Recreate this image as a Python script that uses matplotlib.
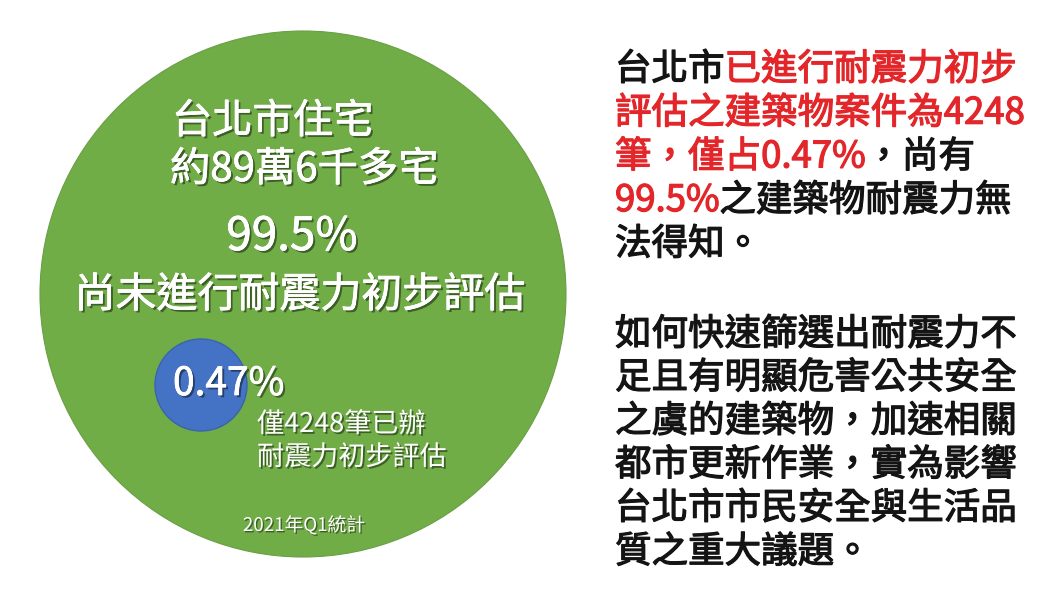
import matplotlib
matplotlib.use("Agg")
import matplotlib.pyplot as plt
from matplotlib.patches import Circle
import matplotlib.patheffects as pe

plt.rcParams['font.family'] = ['Noto Sans CJK TC', 'DejaVu Sans']

# ---- data ----
categories = ["尚未進行耐震力初步評估", "已辦耐震力初步評估"]
shares = [99.5, 0.47]              # percent of Taipei homes
assessed_cases = 4248
homes_label = "約89萬6千多宅"
city_label = "台北市住宅"
stat_period = "2021年Q1統計"

right_para1 = [
    [("台北市", "k"), ("已進行耐震力初步", "r")],
    [("評估之建築物案件為{}".format(assessed_cases), "r")],
    [("筆，僅占{}%".format(shares[1]), "r"), ("，尚有", "k")],
    [("{}%".format(shares[0]), "r"), ("之建築物耐震力無", "k")],
    [("法得知。", "k")],
]
right_para2 = [
    [("如何快速篩選出耐震力不", "k")],
    [("足且有明顯危害公共安全", "k")],
    [("之虞的建築物，加速相關", "k")],
    [("都市更新作業，實為影響", "k")],
    [("台北市市民安全與生活品", "k")],
    [("質之重大議題。", "k")],
]

GREEN = "#70AD47"
BLUE = "#4472C4"
RED = "#E3262A"
BLACK = "#141414"

fig = plt.figure(figsize=(10.6, 5.96), dpi=100)
ax = fig.add_axes([0, 0, 1, 1])
ax.set_xlim(0, 1060)
ax.set_ylim(596, 0)
ax.axis("off")
fig.patch.set_facecolor("white")

# circles (layout)
ax.add_patch(Circle((303, 294), 263, facecolor=GREEN, edgecolor="#6a9f45", lw=0.8, zorder=1))
ax.add_patch(Circle((201, 385), 46, facecolor=BLUE, edgecolor="#3a63ad", lw=1.0, zorder=2))


def white_fx(stroke, off):
    fx = [pe.withSimplePatchShadow(offset=(off, -off), shadow_rgbFace="black", alpha=0.45)]
    if stroke > 0:
        fx.append(pe.withStroke(linewidth=stroke, foreground="white"))
    return fx


wkw = dict(color="white", va="baseline", zorder=3)

ax.text(172, 133, city_label, ha="left", fontsize=29, path_effects=white_fx(0.5, 1.6), **wkw)
ax.text(170, 181, homes_label, ha="left", fontsize=29, path_effects=white_fx(0.5, 1.6), **wkw)
ax.text(292, 250, "{}%".format(shares[0]), ha="center", fontsize=33, path_effects=white_fx(0.5, 1.6), **wkw)
ax.text(300, 307, categories[0], ha="center", fontsize=29.5, path_effects=white_fx(0.5, 1.6), **wkw)
ax.text(173, 395, "{}%".format(shares[1]), ha="left", fontsize=28, path_effects=white_fx(0.5, 1.6), **wkw)
ax.text(257, 432, "僅{}筆已辦".format(assessed_cases), ha="left", fontsize=19.5, path_effects=white_fx(0, 1.3), **wkw)
ax.text(257, 465, "耐震力初步評估", ha="left", fontsize=19.5, path_effects=white_fx(0, 1.3), **wkw)
ax.text(304, 531, stat_period, ha="center", fontsize=13.5, path_effects=white_fx(0, 1.0), **wkw)

# right-hand rich text
renderer = fig.canvas.get_renderer()
colmap = {"k": BLACK, "r": RED}


def draw_lines(lines, y0, step):
    for i, segs in enumerate(lines):
        x = 615
        y = y0 + i * step
        for s, c in segs:
            t = ax.text(x, y, s, color=colmap[c], fontsize=26.3,
                        ha="left", va="baseline", zorder=3,
                        path_effects=[pe.withStroke(linewidth=0.9, foreground=colmap[c])])
            bb = t.get_window_extent(renderer)
            x += bb.width


draw_lines(right_para1, 80, 43.7)
draw_lines(right_para2, 345, 43.5)

fig.savefig("out.png", dpi=100)
